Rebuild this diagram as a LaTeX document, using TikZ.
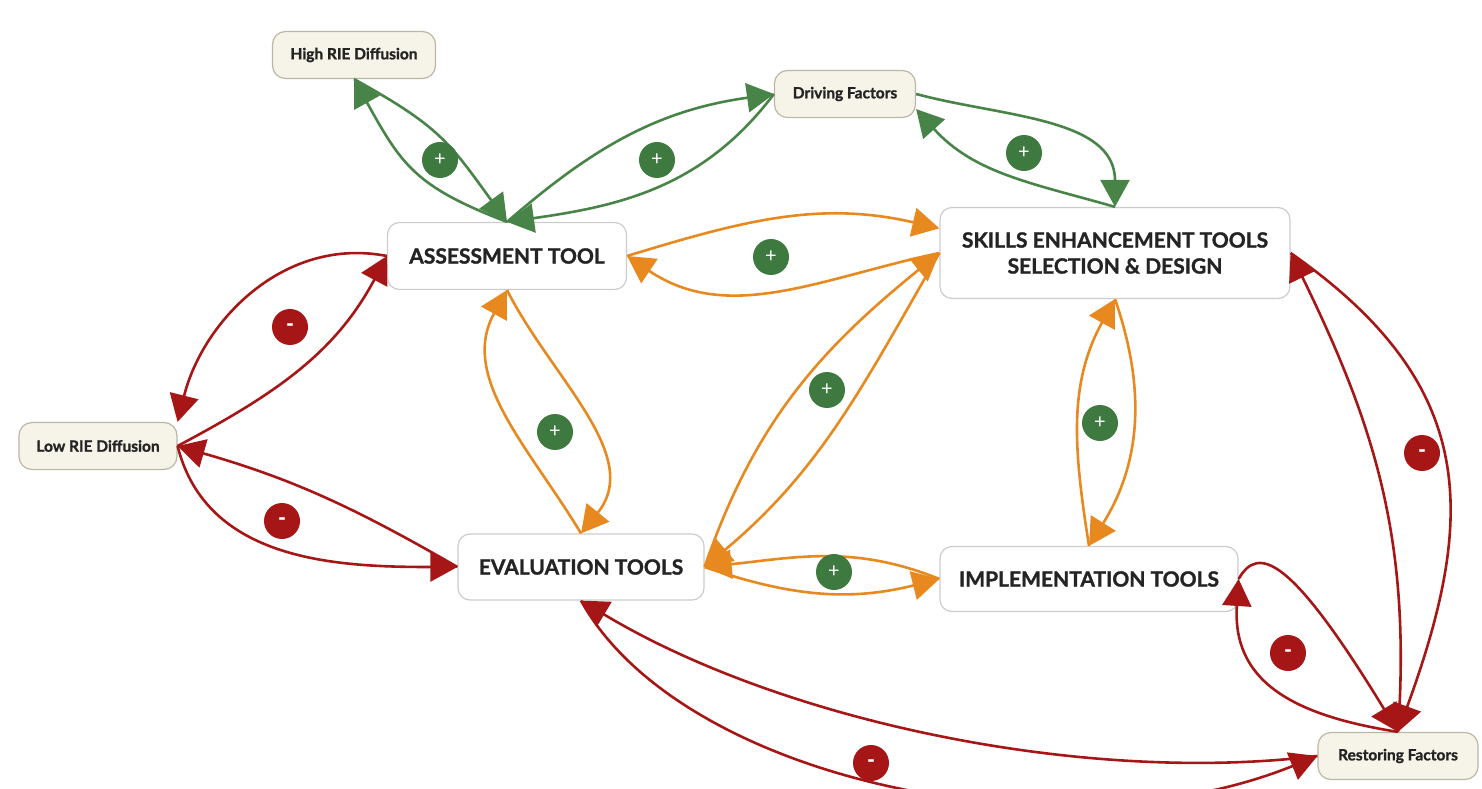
\documentclass[tikz,border=0pt]{standalone}
\usepackage{fontspec}
\setmainfont{Lato}[BoldFeatures={FakeBold=1.3}]
\usetikzlibrary{arrows.meta}

\definecolor{boxline}{RGB}{204,204,204}
\definecolor{factorfill}{RGB}{246,244,232}
\definecolor{factorline}{RGB}{186,183,166}
\definecolor{ink}{RGB}{36,36,36}
\definecolor{edgegreen}{RGB}{72,132,72}
\definecolor{signgreen}{RGB}{62,122,64}
\definecolor{edgeorange}{RGB}{232,137,32}
\definecolor{edgered}{RGB}{166,22,22}

\tikzset{
  tool/.style={draw=boxline, line width=1.2pt, fill=white, rounded corners=12pt,
    minimum height=66pt, inner sep=0pt, align=center, text=ink,
    font=\bfseries\fontsize{21}{26}\selectfont},
  factor/.style={draw=factorline, line width=1.2pt, fill=factorfill, rounded corners=13pt,
    minimum height=47pt, inner sep=0pt, text=ink,
    font=\bfseries\fontsize{15.5}{17}\selectfont},
  sign/.style={circle, minimum size=36pt, inner sep=0pt, text=white,
    font=\fontsize{20}{20}\selectfont},
  plussign/.style={sign, fill=signgreen},
  minussign/.style={sign, fill=edgered},
  link/.style={line width=2.6pt, -{Triangle[length=27pt,width=29pt]}},
  glink/.style={link, draw=edgegreen},
  olink/.style={link, draw=edgeorange},
  rlink/.style={link, draw=edgered}
}

\begin{document}
\begin{tikzpicture}[x=1pt,y=1pt]
\useasboundingbox (0,0) rectangle (1482,788);

% factors
\node[factor, minimum width=163pt] (hr) at (354,733) {High RIE Diffusion};
\node[factor, minimum width=141pt] (df) at (845,694) {Driving Factors};
\node[factor, minimum width=158pt] (lr) at (98,342) {Low RIE Diffusion};
\node[factor, minimum width=160pt] (rf) at (1398,32) {Restoring Factors};

% tools
\node[tool, minimum width=239pt, minimum height=67pt] (at) at (507,532) {ASSESSMENT TOOL};
\node[tool, minimum width=350pt, minimum height=91pt] (sk) at (1115,535) {SKILLS ENHANCEMENT TOOLS\\SELECTION \& DESIGN};
\node[tool, minimum width=246pt] (ev) at (581,221) {EVALUATION TOOLS};
\node[tool, minimum width=298pt, minimum height=65pt] (im) at (1089,209) {IMPLEMENTATION TOOLS};

% green links
\draw[glink] (hr.south) to[out=-29,in=126,looseness=1.2] (at.north);
\draw[glink] (at.north) to[out=159,in=-61,looseness=1.2] (hr.south);
\draw[glink] (at.north) to[out=41,in=-172] (df.west);
\draw[glink] (df.west) to[out=-127,in=8] (at.north);
\draw[glink] (df.east) to[out=-15,in=90] (sk.north);
\draw[glink] (sk.north) to[out=164,in=-48] (df.-12);

% orange links
\draw[olink] (at.east) to[out=17,in=167] (sk.172);
\draw[olink] (sk.west) to[out=-168,in=-34] (at.east);
\draw[olink] (ev.east) to[out=71,in=-141] (sk.west);
\draw[olink] (sk.west) to[out=-120,in=40] (ev.east);
\draw[olink] (ev.north) to[out=121,in=-119] (at.south);
\draw[olink] (at.south) to[out=-63,in=51] (ev.north);
\draw[olink] (im.north) to[out=99,in=-119] (sk.south);
\draw[olink] (sk.south) to[out=-71,in=58] (im.north);
\draw[olink] (im.west) to[out=158,in=6] (ev.east);
\draw[olink] (ev.east) to[out=-19,in=-166] (im.west);

% red links
\draw[rlink] (at.west) to[out=169,in=76] (lr.north east);
\draw[rlink] (lr.east) to[out=28,in=-118] (at.west);
\draw[rlink] (ev.west) to[out=150,in=-16] (lr.east);
\draw[rlink] (lr.east) to[out=-76,in=180] (ev.west);
\draw[rlink] (rf.west) to[out=-173,in=-31,looseness=0.8] (ev.south);
\draw[rlink] (ev.south) .. controls (680,8) and (1060,-72) .. (rf.west);
\draw[rlink] (im.east) .. controls (1258,243) and (1290,233) .. (rf.north);
\draw[rlink] (rf.north) .. controls (1290,73) and (1232,108) .. (im.east);
\draw[rlink] (sk.east) to[out=-35,in=70,looseness=1.2] (rf.north);
\draw[rlink] (rf.north) to[out=86,in=-64] (sk.east);

% signs
\node[plussign] (s1) at (440,628) {+};
\node[plussign] (s2) at (657,628) {+};
\node[plussign] (s3) at (1024,635) {+};
\node[plussign] (s4) at (771,531) {+};
\node[plussign] (s5) at (555,356) {+};
\node[plussign] (s6) at (1100,365) {+};
\node[plussign] (s7) at (834,216) {+};
\node[plussign] (s8) at (827,398) {+};
\node[minussign] (s9) at (290,461) {\bfseries -};
\node[minussign] (s10) at (282,267) {\bfseries -};
\node[minussign] (s11) at (871,25) {\bfseries -};
\node[minussign] (s12) at (1288,135) {\bfseries -};
\node[minussign] (s13) at (1422,335) {\bfseries -};
\end{tikzpicture}
\end{document}
